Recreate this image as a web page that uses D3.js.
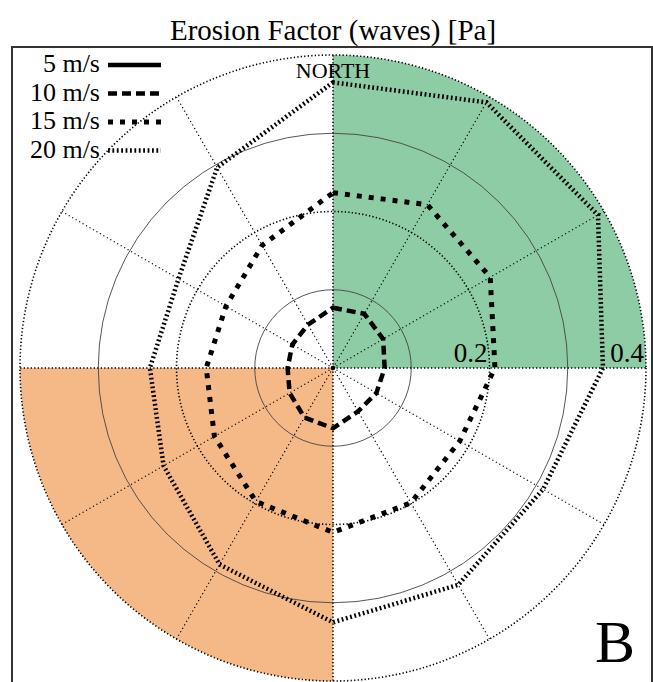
<!DOCTYPE html>
<html>
<head>
<meta charset="utf-8">
<script src="https://cdn.jsdelivr.net/npm/d3@7"></script>
<style>
  html, body { margin: 0; padding: 0; background: #fff; }
  svg { display: block; }
  text { font-family: "Liberation Serif", "DejaVu Serif", serif; fill: #000; }
</style>
</head>
<body>
<svg id="chart" width="653" height="682"></svg>
<script>
// Wind directions (degrees clockwise from north)
const directions = [0, 30, 60, 90, 120, 150, 180, 210, 240, 270, 300, 330];
// Wind speed series
const speeds = ["5 m/s", "10 m/s", "15 m/s", "20 m/s"];
// Erosion factor [Pa] per direction for each wind speed
const erosion5  = [0.001, 0.001, 0.001, 0.001, 0.001, 0.001, 0.001, 0.001, 0.001, 0.001, 0.001, 0.001];
const erosion10 = [0.077, 0.080, 0.074, 0.066, 0.064, 0.064, 0.077, 0.073, 0.064, 0.058, 0.060, 0.064];
const erosion15 = [0.224, 0.241, 0.232, 0.207, 0.187, 0.199, 0.210, 0.197, 0.175, 0.162, 0.158, 0.181];
const erosion20 = [0.365, 0.392, 0.391, 0.345, 0.310, 0.320, 0.325, 0.290, 0.250, 0.234, 0.228, 0.296];
// Radial grid rings and labelled ticks
const ringValues = [0.1, 0.2, 0.3, 0.4];
const tickLabels = ["0.2", "0.4"];
const tickValues = [0.2, 0.4];
// Highlighted sectors [start, end] in degrees
const sectors = [[0, 90], [180, 270]];
const sectorColors = ["#8ecca5", "#f5b988"];

const series = [erosion5, erosion10, erosion15, erosion20];
const lineStyles = [
  { width: 3, dash: null },
  { width: 4.5, dash: "9,5" },
  { width: 5, dash: "5,7" },
  { width: 4.5, dash: "1.8,2.6" }
];
const legendStyles = [
  { width: 4.5, dash: null },
  { width: 4.5, dash: "9,5" },
  { width: 5, dash: "5,7" },
  { width: 4.5, dash: "1.8,2.6" }
];

const svg = d3.select("#chart");
const cx = 333, cy = 368;
const rMax = 313;

const r = d3.scaleLinear().domain([0, 0.4]).range([0, rMax]);
const ang = d3.scaleLinear().domain([0, 360]).range([0, 2 * Math.PI]);

const g = svg.append("g").attr("transform", `translate(${cx},${cy})`);

// Coloured quadrants
const arc = d3.arc().innerRadius(0).outerRadius(r(0.4));
g.selectAll("path.sector")
  .data(sectors)
  .join("path")
  .attr("class", "sector")
  .attr("d", d => arc({ startAngle: ang(d[0]), endAngle: ang(d[1]) }))
  .attr("fill", (d, i) => sectorColors[i]);

// Rings: odd rings solid, labelled rings dotted
g.selectAll("circle.ring")
  .data(ringValues)
  .join("circle")
  .attr("class", "ring")
  .attr("r", d => r(d))
  .attr("fill", "none")
  .attr("stroke", (d, i) => i % 2 === 0 ? "#444" : "#000")
  .attr("stroke-width", (d, i) => i % 2 === 0 ? 0.9 : 1.6)
  .attr("stroke-dasharray", (d, i) => i % 2 === 0 ? null : "1.3,2.2");

// Spokes
g.selectAll("line.spoke")
  .data(directions)
  .join("line")
  .attr("class", "spoke")
  .attr("x1", 0).attr("y1", 0)
  .attr("x2", d => r(0.4) * Math.sin(ang(d)))
  .attr("y2", d => -r(0.4) * Math.cos(ang(d)))
  .attr("stroke", "#000")
  .attr("stroke-width", d => d % 90 === 0 ? 1.6 : 1.2)
  .attr("stroke-dasharray", d => d % 90 === 0 ? "1.3,2.2" : "1.2,2.8");

// Series polygons
const radial = d3.lineRadial()
  .angle((d, i) => ang(directions[i]))
  .radius(d => r(d))
  .curve(d3.curveLinearClosed);

g.selectAll("path.series")
  .data(series)
  .join("path")
  .attr("class", "series")
  .attr("d", d => radial(d))
  .attr("fill", "none")
  .attr("stroke", "#000")
  .attr("stroke-width", (d, i) => lineStyles[i].width)
  .attr("stroke-dasharray", (d, i) => lineStyles[i].dash)
  .attr("stroke-linejoin", "miter");

// Tick labels along the east spoke
g.selectAll("text.tick")
  .data(tickValues)
  .join("text")
  .attr("class", "tick")
  .attr("x", d => r(d) - 2)
  .attr("y", -6)
  .attr("text-anchor", "end")
  .attr("font-size", 27)
  .text((d, i) => tickLabels[i]);

// North marker
g.append("text")
  .attr("x", 0)
  .attr("y", -r(0.4) + 23)
  .attr("text-anchor", "middle")
  .attr("font-size", 22)
  .text("NORTH");

// Frame
svg.append("rect")
  .attr("x", 12).attr("y", 47)
  .attr("width", 640).attr("height", 660)
  .attr("fill", "none")
  .attr("stroke", "#333")
  .attr("stroke-width", 2);

// Title
svg.append("text")
  .attr("x", 333).attr("y", 40)
  .attr("text-anchor", "middle")
  .attr("font-size", 29)
  .text("Erosion Factor (waves) [Pa]");

// Legend
const legend = svg.append("g");
const rows = legend.selectAll("g")
  .data(speeds)
  .join("g")
  .attr("transform", (d, i) => `translate(0,${72 + i * 28.5})`);
rows.append("text")
  .attr("x", 100).attr("y", 0)
  .attr("text-anchor", "end")
  .attr("font-size", 26)
  .text(d => d);
rows.append("line")
  .attr("x1", 108).attr("x2", 161)
  .attr("y1", -7).attr("y2", -7)
  .attr("stroke", "#000")
  .attr("stroke-width", (d, i) => legendStyles[i].width)
  .attr("stroke-dasharray", (d, i) => legendStyles[i].dash);

// Panel letter
svg.append("text")
  .attr("x", 595).attr("y", 662)
  .attr("font-size", 60)
  .text("B");
</script>
</body>
</html>
